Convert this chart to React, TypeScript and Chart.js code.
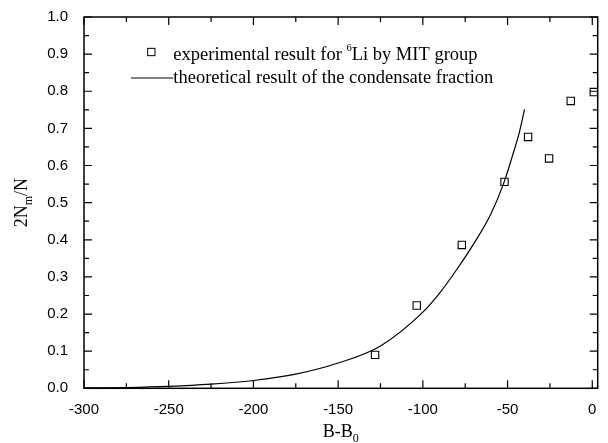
import React, { useEffect, useRef } from "react";
import { Chart, registerables } from "chart.js";

Chart.register(...registerables);

// ---- data ----
const xTicks = [-300, -250, -200, -150, -100, -50, 0];
const xMinorTicks = [-275, -225, -175, -125, -75, -25];
const yTicks = [0, 0.1, 0.2, 0.3, 0.4, 0.5, 0.6, 0.7, 0.8, 0.9, 1.0];
const yMinorTicks = [0.05, 0.15, 0.25, 0.35, 0.45, 0.55, 0.65, 0.75, 0.85, 0.95];
const xRange = [-300, 3.2];
const yRange = [0, 1];

const expX = [-128.2, -103.6, -77, -51.8, -37.9, -25.5, -12.7, 0.9];
const expY = [0.09, 0.223, 0.386, 0.556, 0.677, 0.619, 0.774, 0.798];

const theoryX = [-300, -275, -250, -225, -200, -175, -150, -125, -100, -90, -80, -70, -60, -52, -47, -43, -40];
const theoryY = [0.001, 0.002, 0.005, 0.011, 0.021, 0.038, 0.068, 0.114, 0.205, 0.257, 0.32, 0.389, 0.468, 0.556, 0.628, 0.69, 0.751];

const legendExp = ["experimental result for ", "6", "Li by MIT group"];
const legendTheory = "theoretical result of the condensate fraction";
const xTitle = ["B-B", "0"];
const yTitle = ["2N", "m", "/N"];

const SERIF = "'Liberation Serif', 'Times New Roman', serif";
const SANS = "'Liberation Sans', Arial, sans-serif";

type Seg = { text: string; size: number; dy: number };

function segWidth(ctx: CanvasRenderingContext2D, segs: Seg[]) {
  let w = 0;
  for (const s of segs) {
    ctx.font = `${s.size}px ${SERIF}`;
    w += ctx.measureText(s.text).width;
  }
  return w;
}

function drawSegs(ctx: CanvasRenderingContext2D, segs: Seg[], x: number, y: number) {
  let cx = x;
  ctx.textBaseline = "alphabetic";
  ctx.textAlign = "left";
  for (const s of segs) {
    ctx.font = `${s.size}px ${SERIF}`;
    ctx.fillText(s.text, cx, y + s.dy);
    cx += ctx.measureText(s.text).width;
  }
}

const framePlugin = {
  id: "originFrame",
  afterDraw(chart: any) {
    const { ctx, chartArea } = chart;
    const xs = chart.scales.x;
    const ys = chart.scales.y;
    const { left, right, top, bottom } = chartArea;
    ctx.save();
    ctx.strokeStyle = "#000";
    ctx.fillStyle = "#000";

    // ticks (inward)
    ctx.lineWidth = 1.2;
    const majorLen = 8;
    const minorLen = 5;
    const drawX = (vals: number[], len: number) => {
      for (const v of vals) {
        const px = xs.getPixelForValue(v);
        ctx.beginPath();
        ctx.moveTo(px, bottom);
        ctx.lineTo(px, bottom - len);
        ctx.moveTo(px, top);
        ctx.lineTo(px, top + len);
        ctx.stroke();
      }
    };
    const drawY = (vals: number[], len: number) => {
      for (const v of vals) {
        const py = ys.getPixelForValue(v);
        ctx.beginPath();
        ctx.moveTo(left, py);
        ctx.lineTo(left + len, py);
        ctx.moveTo(right, py);
        ctx.lineTo(right - len, py);
        ctx.stroke();
      }
    };
    drawX(xTicks, majorLen);
    drawX(xMinorTicks, minorLen);
    drawY(yTicks, majorLen);
    drawY(yMinorTicks, minorLen);

    // frame
    ctx.lineWidth = 1.5;
    ctx.strokeRect(left, top, right - left, bottom - top);

    // legend
    const sqX = 151.3;
    const sqY = 52;
    const side = 7.3;
    ctx.lineWidth = 1;
    ctx.strokeRect(sqX - side / 2, sqY - side / 2, side, side);
    drawSegs(
      ctx,
      [
        { text: legendExp[0], size: 18.5, dy: 0 },
        { text: legendExp[1], size: 10.5, dy: -8.5 },
        { text: legendExp[2], size: 18.5, dy: 0 },
      ],
      173.3,
      59.7
    );
    ctx.beginPath();
    ctx.lineWidth = 1;
    ctx.moveTo(131, 78);
    ctx.lineTo(173.3, 78);
    ctx.stroke();
    drawSegs(ctx, [{ text: legendTheory, size: 18.5, dy: 0 }], 173.3, 82.7);

    // x title
    const xt: Seg[] = [
      { text: xTitle[0], size: 18, dy: 0 },
      { text: xTitle[1], size: 12, dy: 5 },
    ];
    const xw = segWidth(ctx, xt);
    drawSegs(ctx, xt, (left + right) / 2 - xw / 2, 437.3);

    // y title (rotated)
    const yt: Seg[] = [
      { text: yTitle[0], size: 18, dy: 0 },
      { text: yTitle[1], size: 12, dy: 5 },
      { text: yTitle[2], size: 18, dy: 0 },
    ];
    const yw = segWidth(ctx, yt);
    ctx.translate(27.3, (top + bottom) / 2);
    ctx.rotate(-Math.PI / 2);
    drawSegs(ctx, yt, -yw / 2, 0);
    ctx.restore();
  },
};

export default function App() {
  const ref = useRef<HTMLCanvasElement | null>(null);

  useEffect(() => {
    if (!ref.current) return;
    const chart = new Chart(ref.current, {
      type: "scatter",
      data: {
        datasets: [
          {
            label: legendTheory,
            data: theoryX.map((x, i) => ({ x, y: theoryY[i] })),
            showLine: true,
            borderColor: "#000",
            borderWidth: 1.2,
            pointRadius: 0,
            cubicInterpolationMode: "monotone",
            fill: false,
          },
          {
            label: legendExp.join(""),
            data: expX.map((x, i) => ({ x, y: expY[i] })),
            showLine: false,
            pointStyle: "rect",
            pointRadius: 5.2,
            borderColor: "#000",
            borderWidth: 1.1,
            backgroundColor: "rgba(255,255,255,0)",
          },
        ],
      },
      options: {
        responsive: false,
        animation: false,
        layout: { padding: { top: 14, right: 10.3, left: 0, bottom: 0 } },
        plugins: {
          legend: { display: false },
          tooltip: { enabled: false },
          title: { display: false },
        },
        scales: {
          x: {
            type: "linear",
            min: xRange[0],
            max: xRange[1],
            grid: { display: false },
            border: { display: false },
            afterBuildTicks: (scale: any) => {
              scale.ticks = xTicks.map((v) => ({ value: v }));
            },
            afterFit: (scale: any) => {
              scale.height = 54.7;
            },
            ticks: {
              color: "#000",
              font: { family: SANS, size: 15 },
              padding: 5,
              maxRotation: 0,
              autoSkip: false,
              callback: (v: any) => String(v),
            },
          },
          y: {
            type: "linear",
            min: yRange[0],
            max: yRange[1],
            grid: { display: false },
            border: { display: false },
            afterBuildTicks: (scale: any) => {
              scale.ticks = yTicks.map((v) => ({ value: v }));
            },
            afterFit: (scale: any) => {
              scale.width = 84;
            },
            ticks: {
              color: "#000",
              font: { family: SANS, size: 15 },
              padding: 8,
              autoSkip: false,
              callback: (v: any) => Number(v).toFixed(1),
            },
          },
        },
      },
      plugins: [framePlugin],
    } as any);
    return () => chart.destroy();
  }, []);

  return (
    <div style={{ position: "absolute", left: 0, top: 0, width: 608, height: 443, background: "#fff" }}>
      <canvas ref={ref} width={608} height={443} style={{ width: 608, height: 443, display: "block" }} />
    </div>
  );
}
